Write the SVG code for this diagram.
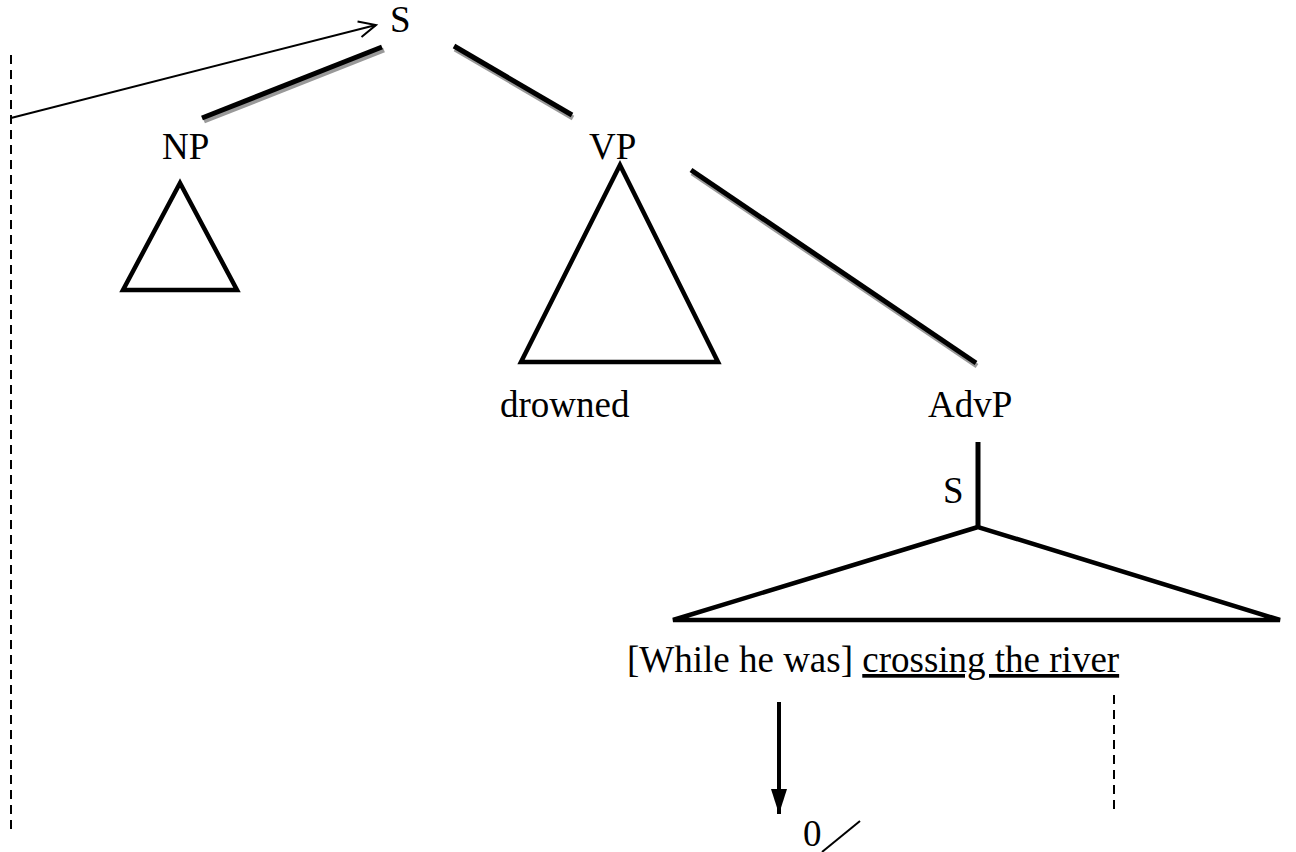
<svg xmlns="http://www.w3.org/2000/svg" width="1296" height="852" viewBox="0 0 1296 852">
<style>
text{font-family:"Liberation Serif","Times New Roman",serif;font-size:37px;fill:#000}
.br{stroke:#000;stroke-width:5;fill:none}
.sh{stroke:#999;stroke-width:5;fill:none}
.tri{stroke:#000;stroke-width:4.5;fill:none;stroke-linejoin:miter}
.dash{stroke:#000;stroke-width:2;stroke-dasharray:9,6;fill:none}
</style>
<defs>
<marker id="open" markerWidth="22" markerHeight="22" refX="19" refY="11" orient="auto" markerUnits="userSpaceOnUse">
<path d="M2,3 L19,11 L2,19" fill="none" stroke="#000" stroke-width="2"/>
</marker>
<marker id="solid" markerWidth="20" markerHeight="26" refX="10" refY="25" orient="0" markerUnits="userSpaceOnUse">
<path d="M2,0 L18,0 L10,25 Z" fill="#000"/>
</marker>
</defs>
<g id="connectors">
<line class="dash" x1="11" y1="55" x2="11" y2="832"/>
<line x1="11" y1="118" x2="376" y2="25" stroke="#000" stroke-width="2" marker-end="url(#open)"/>
<line class="sh" x1="204" y1="121" x2="384" y2="50"/>
<line class="br" x1="202" y1="118" x2="382" y2="47"/>
<line class="sh" x1="455" y1="49" x2="573" y2="118"/>
<line class="br" x1="454" y1="46" x2="572" y2="115"/>
<line class="sh" x1="692" y1="173" x2="977" y2="366"/>
<line class="br" x1="691" y1="170" x2="976" y2="363"/>
<line class="br" x1="978" y1="442" x2="978" y2="527"/>
<line x1="779" y1="702" x2="779" y2="814" stroke="#000" stroke-width="4" marker-end="url(#solid)"/>
<line class="dash" x1="1114" y1="695" x2="1114" y2="815"/>
<line x1="822" y1="852" x2="860" y2="821" stroke="#000" stroke-width="2"/>
</g>
<g id="node-S"><text x="390" y="32">S</text></g>
<g id="node-NP">
<text x="162" y="159">NP</text>
<polygon class="tri" points="180,183 123,290 237,290"/>
</g>
<g id="node-VP">
<text x="589" y="159">VP</text>
<polygon class="tri" points="620,165 521,362 718,362"/>
<text x="500" y="417">drowned</text>
</g>
<g id="node-AdvP"><text x="928" y="417">AdvP</text></g>
<g id="node-S2">
<text x="943" y="503">S</text>
<polygon class="tri" points="978,527 673,620 1280,620"/>
</g>
<g id="node-clause">
<text x="627" y="672">[While he was] <tspan text-decoration="underline">crossing the river</tspan></text>
</g>
<g id="node-zero"><text x="803" y="846">0</text></g>
</svg>
